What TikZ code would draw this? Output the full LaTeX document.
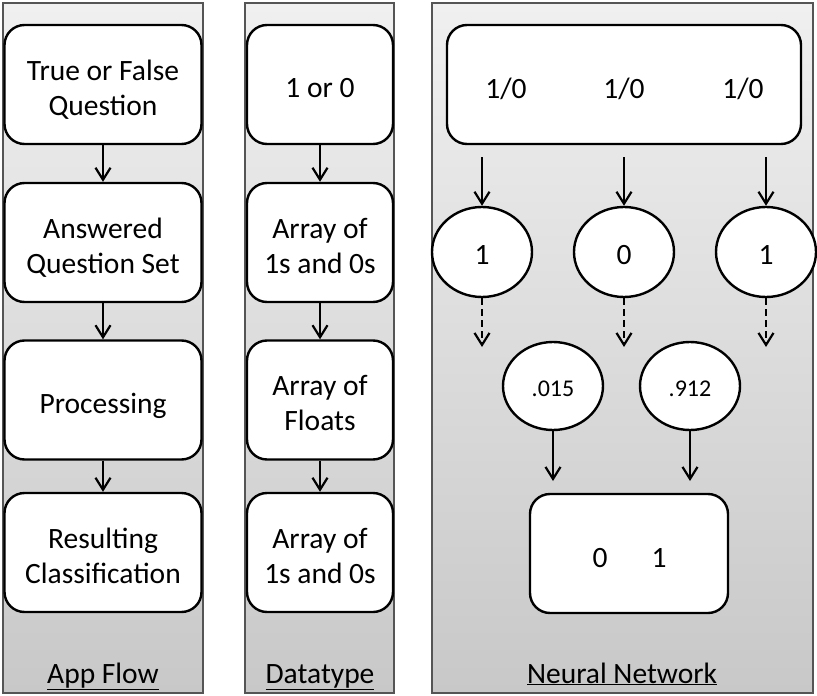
\documentclass[tikz,border=0pt]{standalone}
\usepackage{fontspec}
\setmainfont{Carlito}
\usetikzlibrary{arrows.meta,shapes.geometric}
\definecolor{paneltop}{HTML}{F0F0F0}
\definecolor{panelbot}{HTML}{C8C8C8}
\definecolor{panelline}{HTML}{555555}
% centred lines of text, printed a little below the node centre
\newcommand\stagetext[1]{\raisebox{-6pt}[\height][\depth]{\begin{tabular}{@{}c@{}}#1\end{tabular}}}
\newcommand\lowered[2]{\raisebox{-#1}[\height][\depth]{#2}}
\begin{document}
\begin{tikzpicture}[x=1pt,y=-1pt,
  panel/.style={draw=panelline,line width=1.8pt,top color=paneltop,bottom color=panelbot},
  stagebox/.style={draw=black,line width=2.4pt,fill=white,rounded corners=20pt,
    align=center,inner sep=0pt,font=\fontsize{29.5}{35}\selectfont,minimum height=119pt},
  neuron/.style={draw=black,line width=2.4pt,fill=white,ellipse,inner sep=0pt,
    minimum width=100pt,minimum height=90pt,font=\fontsize{29.5}{35}\selectfont},
  outneuron/.style={neuron,minimum height=88pt,font=\fontsize{24}{28}\selectfont},
  plain/.style={font=\fontsize{29.5}{35}\selectfont,inner sep=0pt},
  caption/.style={font=\fontsize{29.5}{35}\selectfont,anchor=base},
  flow/.style={line width=2.2pt,-{Straight Barb[length=12pt,width=15pt,line width=2.2pt]}},
  dflow/.style={flow,dash pattern=on 7pt off 4pt}]
\useasboundingbox (0,0) rectangle (817,696);

% column backgrounds
\path[panel] (3,3) rectangle (203,693);
\path[panel] (245,3) rectangle (394,693);
\path[panel] (432,3) rectangle (813,693);

% application flow
\node[stagebox,minimum width=197pt] (a1) at (103,84.5) {\stagetext{True or False\\Question}};
\node[stagebox,minimum width=197pt] (a2) at (103,242.5) {\stagetext{Answered\\Question Set}};
\node[stagebox,minimum width=197pt] (a3) at (103,400) {\stagetext{Processing}};
\node[stagebox,minimum width=197pt] (a4) at (103,552.5) {\stagetext{Resulting\\Classification}};
\draw[flow] (a1) -- (a2);
\draw[flow] (a2) -- (a3);
\draw[flow] (a3) -- (a4);

% data types
\node[stagebox,minimum width=146pt] (d1) at (320,84.5) {\stagetext{1 or 0}};
\node[stagebox,minimum width=146pt] (d2) at (320,242.5) {\stagetext{Array of\\1s and 0s}};
\node[stagebox,minimum width=146pt] (d3) at (320,400) {\stagetext{Array of\\Floats}};
\node[stagebox,minimum width=146pt] (d4) at (320,552.5) {\stagetext{Array of\\1s and 0s}};
\draw[flow] (d1) -- (d2);
\draw[flow] (d2) -- (d3);
\draw[flow] (d3) -- (d4);

% neural network: input layer
\node[stagebox,minimum width=354pt] (inp) at (624,84.5) {};
\node[plain] (i1) at (506,89) {1/0};
\node[plain] (i2) at (624,89) {1/0};
\node[plain] (i3) at (743,89) {1/0};

% hidden layer
\node[neuron] (h1) at (482,252) {\lowered{3pt}{1}};
\node[neuron] (h2) at (624,252) {\lowered{3pt}{0}};
\node[neuron] (h3) at (766,252) {\lowered{3pt}{1}};

\coordinate (s1) at (482,157);
\coordinate (s2) at (624,157);
\coordinate (s3) at (766,157);
\draw[flow] (s1) -- (h1);
\draw[flow] (s2) -- (h2);
\draw[flow] (s3) -- (h3);

\coordinate (e1) at (482,347);
\coordinate (e2) at (624,347);
\coordinate (e3) at (766,347);
\draw[dflow] (h1) -- (e1);
\draw[dflow] (h2) -- (e2);
\draw[dflow] (h3) -- (e3);

% output layer
\node[outneuron] (o1) at (553,386) {\lowered{3pt}{.015}};
\node[outneuron] (o2) at (690,386) {\lowered{3pt}{.912}};

\node[stagebox,minimum width=198pt] (res) at (629,553.5) {};
\node[plain] (r0) at (600,558) {0};
\node[plain] (r1) at (659,558) {1};

\coordinate (f1) at (553,481);
\coordinate (f2) at (690,481);
\draw[flow] (o1) -- (f1);
\draw[flow] (o2) -- (f2);

% column captions
\node[caption] (c1) at (103,683) {\underline{App Flow}};
\node[caption] (c2) at (320,683) {\underline{Datatype}};
\node[caption] (c3) at (622,683) {\underline{Neural Network}};
\end{tikzpicture}
\end{document}
